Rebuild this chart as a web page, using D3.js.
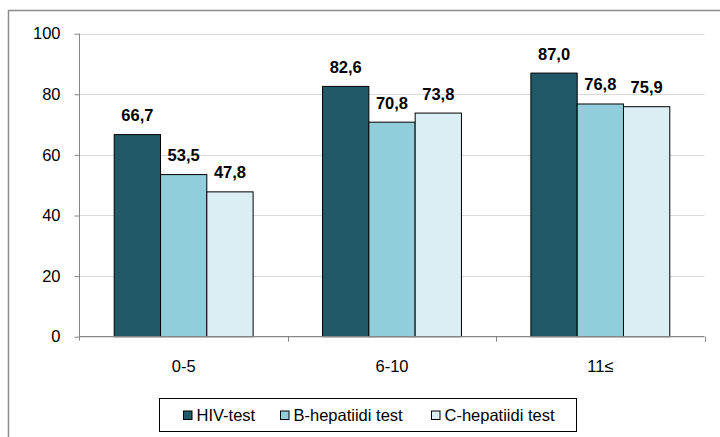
<!DOCTYPE html>
<html>
<head>
<meta charset="utf-8">
<script src="https://cdn.jsdelivr.net/npm/d3@7"></script>
<style>
  body { margin: 0; background: #fff; }
  svg { display: block; font-family: "Liberation Sans", Arial, sans-serif; }
</style>
</head>
<body>
<svg id="chart" width="720" height="437"></svg>
<script>
let categories = ["0-5", "6-10", "11≤"];
let series = ["HIV-test", "B-hepatiidi test", "C-hepatiidi test"];
let hivValues = [66.7, 82.6, 87.0];
let hepBValues = [53.5, 70.8, 76.8];
let hepCValues = [47.8, 73.8, 75.9];
let yTicks = [0, 20, 40, 60, 80, 100];
let colors = ["#215968", "#92cddc", "#daeef3"];

let svg = d3.select("#chart");
let values = [hivValues, hepBValues, hepCValues];
let fontSize = 16.5;

// outer chart border (right and bottom edges fall outside the picture)
svg.append("path")
    .attr("d", "M8.5,437 V10.5 H720")
    .attr("fill", "none")
    .attr("stroke", "#8c8c8c")
    .attr("stroke-width", 1.5);

let plotLeft = 79.5, plotRight = 704.5, plotTop = 33.7, plotBottom = 336.7;

let x = d3.scaleBand().domain(categories).range([plotLeft, plotRight]);
let xInner = d3.scaleBand().domain(series)
    .range([0, x.bandwidth()])
    .paddingOuter(0.75);
let y = d3.scaleLinear().domain([0, 100]).range([plotBottom, plotTop]);

// gridlines
svg.append("g").selectAll("line")
    .data(yTicks.filter(d => d > 0))
    .join("line")
    .attr("x1", plotLeft).attr("x2", plotRight)
    .attr("y1", d => Math.round(y(d)) + 0.5)
    .attr("y2", d => Math.round(y(d)) + 0.5)
    .attr("stroke", "#d9d9d9")
    .attr("stroke-width", 1);

// bars
let groups = svg.append("g").selectAll("g")
    .data(categories)
    .join("g")
    .attr("transform", d => "translate(" + x(d) + ",0)");

groups.selectAll("rect")
    .data((c, ci) => series.map((s, si) => ({s: s, si: si, v: values[si][ci]})))
    .join("rect")
    .attr("x", d => xInner(d.s))
    .attr("y", d => y(d.v))
    .attr("width", xInner.bandwidth())
    .attr("height", d => plotBottom - y(d.v))
    .attr("fill", d => colors[d.si])
    .attr("stroke", "#000")
    .attr("stroke-width", 1);

groups.selectAll("text")
    .data((c, ci) => series.map((s, si) => ({s: s, si: si, v: values[si][ci]})))
    .join("text")
    .attr("x", d => xInner(d.s) + xInner.bandwidth() / 2)
    .attr("y", d => y(d.v) - 13.5)
    .attr("text-anchor", "middle")
    .attr("font-size", fontSize)
    .attr("font-weight", "bold")
    .text(d => d.v.toFixed(1).replace(".", ","));

// y axis
let yAxis = d3.axisLeft(y).tickValues(yTicks).tickSize(5).tickPadding(14);
let gy = svg.append("g")
    .attr("transform", "translate(" + plotLeft + ",0)")
    .call(yAxis);
gy.select(".domain").attr("stroke", "#868686").attr("d", "M0," + (plotBottom + 4) + "V" + plotTop);
gy.selectAll(".tick line").attr("stroke", "#868686");
gy.selectAll(".tick text").attr("font-size", fontSize).attr("fill", "#000")
    .attr("font-family", "Liberation Sans, Arial, sans-serif");

// x axis
let gx = svg.append("g")
    .attr("transform", "translate(0," + plotBottom + ")");
gx.append("line")
    .attr("x1", plotLeft).attr("x2", plotRight)
    .attr("stroke", "#868686").attr("stroke-width", 1.2);
gx.selectAll(".tk")
    .data(categories)
    .join("line")
    .attr("class", "tk")
    .attr("x1", d => Math.round(x(d) + x.bandwidth()) + 0.5)
    .attr("x2", d => Math.round(x(d) + x.bandwidth()) + 0.5)
    .attr("y1", 0).attr("y2", 5)
    .attr("stroke", "#868686");
gx.selectAll(".lbl")
    .data(categories)
    .join("text")
    .attr("class", "lbl")
    .attr("x", d => x(d) + x.bandwidth() / 2)
    .attr("y", 35)
    .attr("text-anchor", "middle")
    .attr("font-size", fontSize)
    .text(d => d);

// legend
let legend = svg.append("g");
legend.append("rect")
    .attr("x", 159.5).attr("y", 398.5)
    .attr("width", 417).attr("height", 33)
    .attr("fill", "#fff").attr("stroke", "#000").attr("stroke-width", 1);
let legendX = [183.5, 280.5, 431.5];
let items = legend.selectAll("g")
    .data(series)
    .join("g")
    .attr("transform", (d, i) => "translate(" + legendX[i] + ",411)");
items.append("rect")
    .attr("x", 0).attr("y", 0)
    .attr("width", 8.5).attr("height", 8.5)
    .attr("fill", (d, i) => colors[i])
    .attr("stroke", "#000");
items.append("text")
    .attr("x", 13).attr("y", 9.7)
    .attr("font-size", fontSize)
    .text(d => d);
</script>
</body>
</html>
